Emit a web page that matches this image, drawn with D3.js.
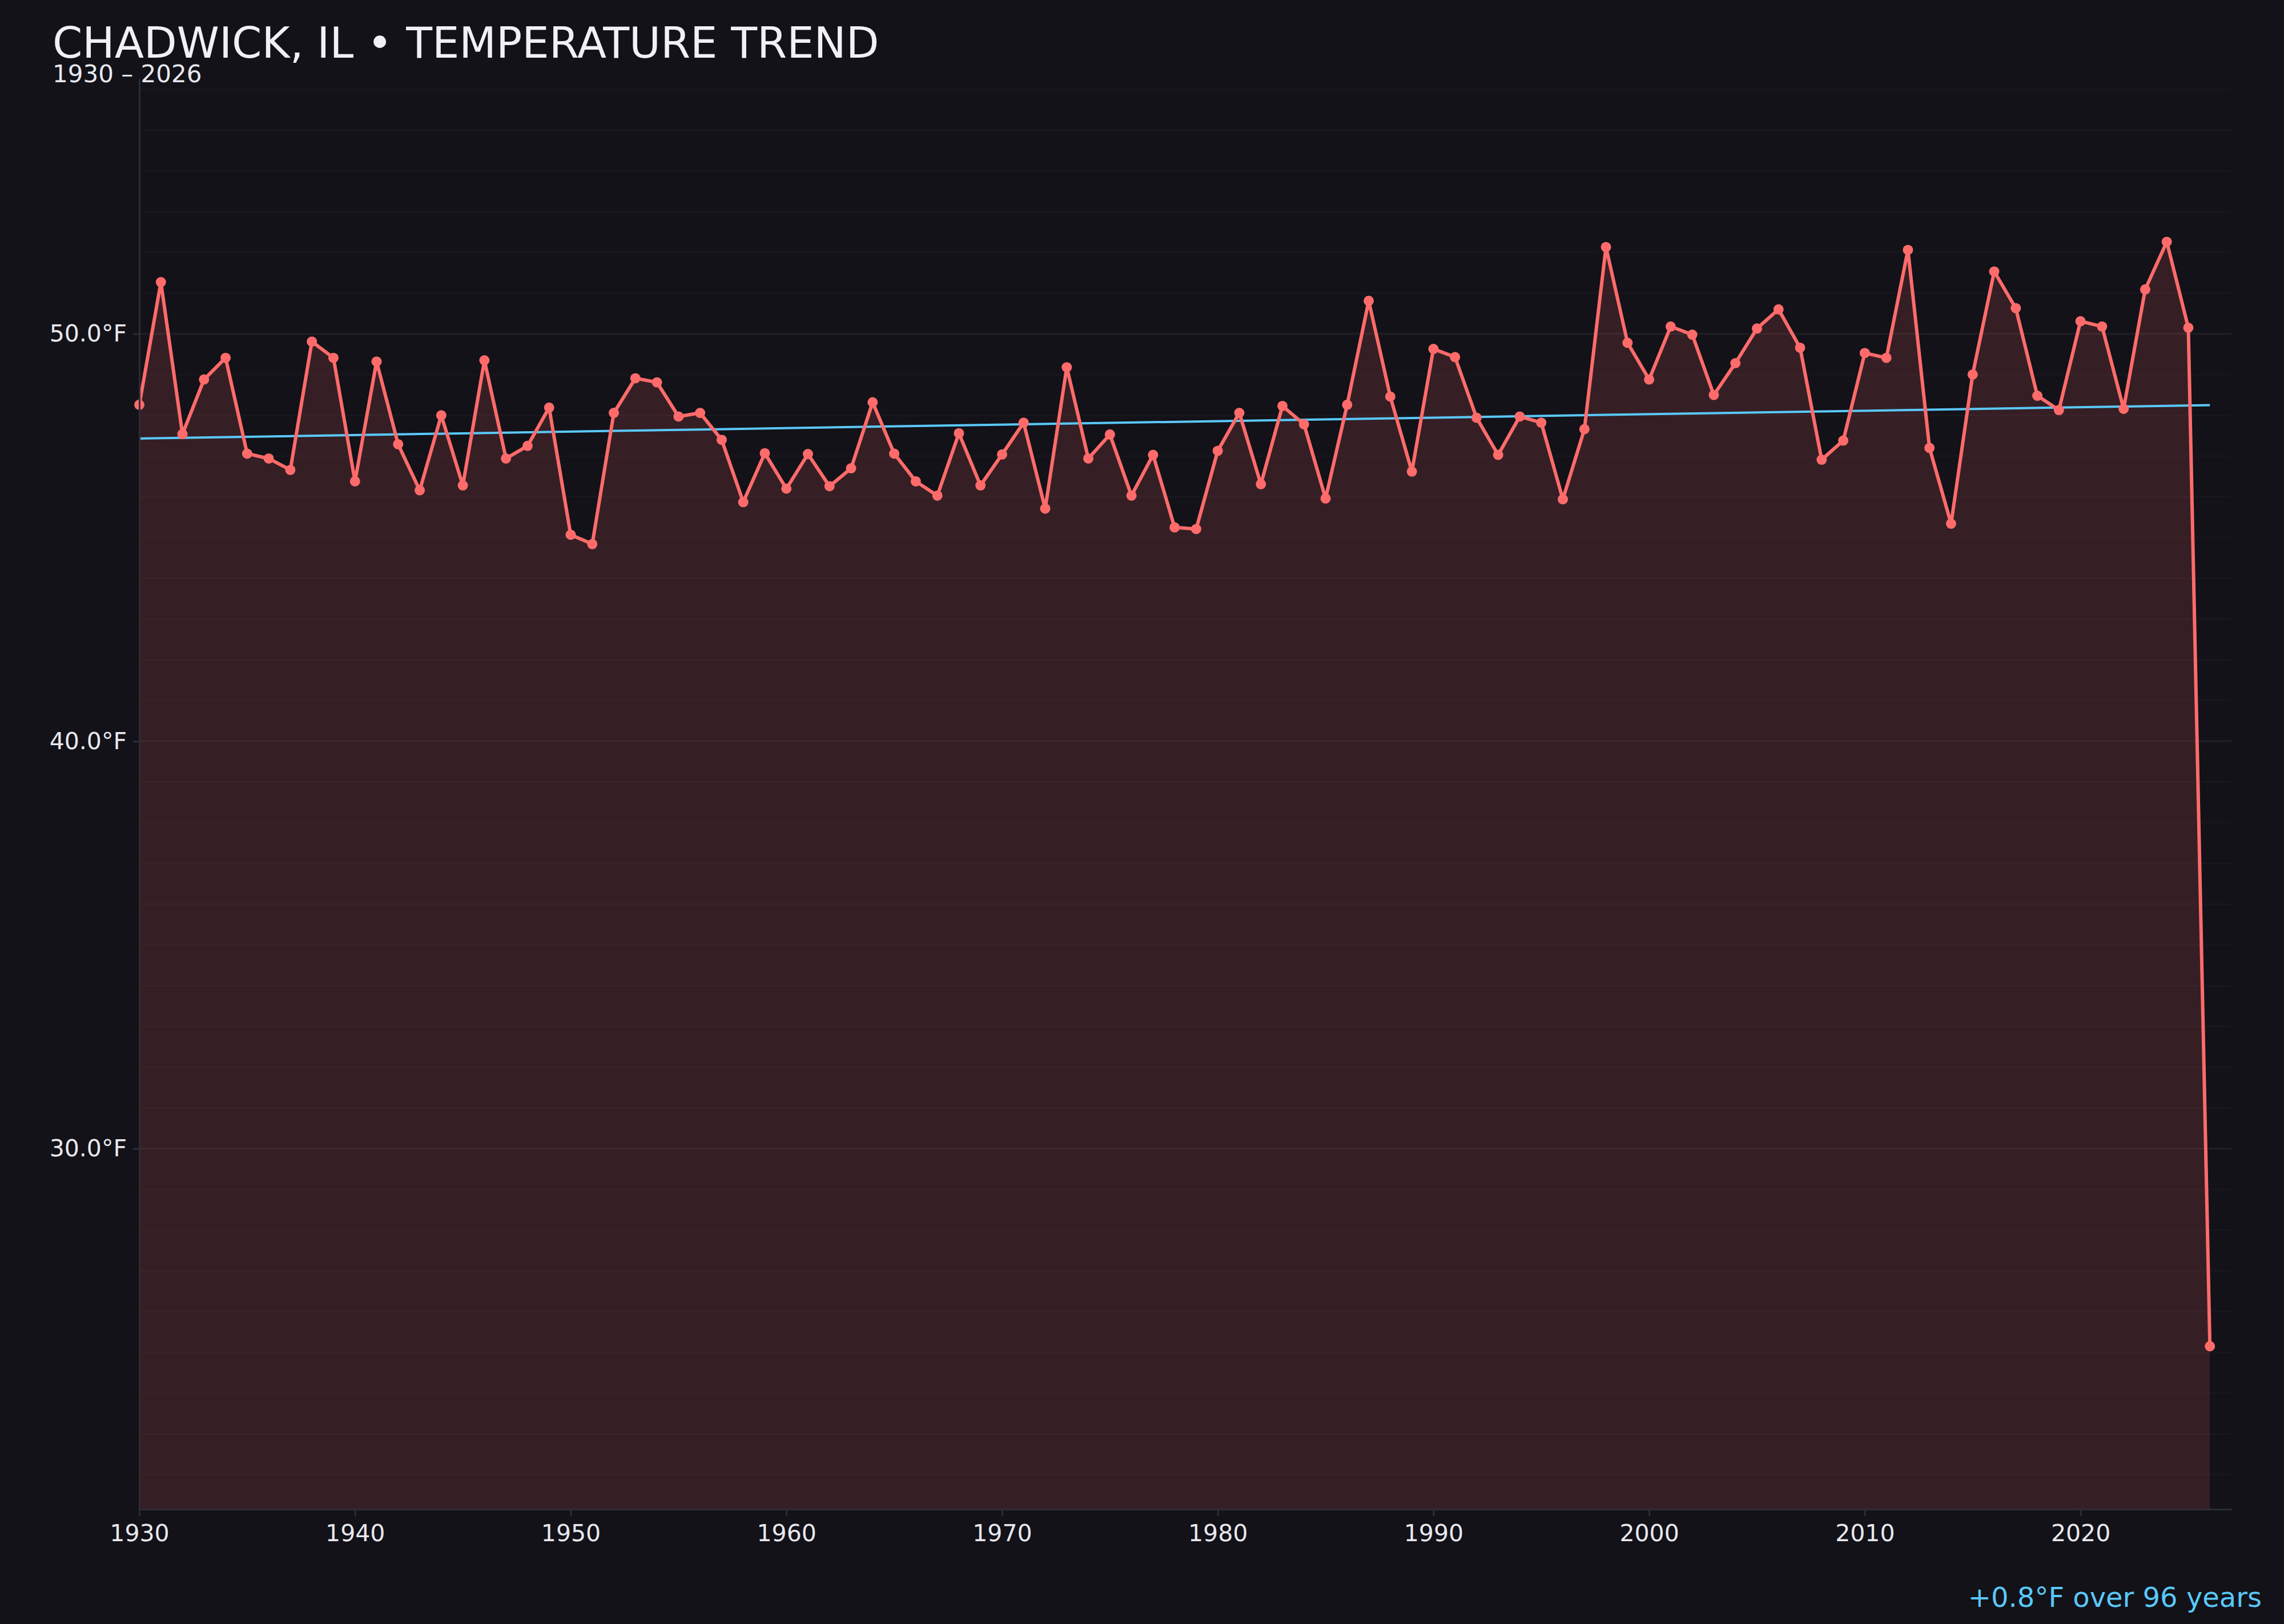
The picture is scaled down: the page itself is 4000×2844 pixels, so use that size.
<!DOCTYPE html>
<html>
<head>
<meta charset="utf-8">
<script src="https://cdn.jsdelivr.net/npm/d3@7/dist/d3.min.js"></script>
<style>
  html, body { margin: 0; padding: 0; background: #121218; }
  svg { display: block; font-family: "DejaVu Sans", sans-serif; }
</style>
</head>
<body>
<div id="chart"></div>
<script>
// Annual mean temperature, Chadwick IL
const years = d3.range(1930, 2027);
const temps = [
  48.26, 51.27, 47.54, 48.88, 49.41, 47.06, 46.94, 46.66, 49.81, 49.41,
  46.38, 49.32, 47.29, 46.16, 48.00, 46.28, 49.35, 46.94, 47.25, 48.19,
  45.07, 44.84, 48.06, 48.91, 48.81, 47.97, 48.06, 47.40, 45.87, 47.07,
  46.20, 47.05, 46.26, 46.70, 48.32, 47.06, 46.38, 46.03, 47.56, 46.28,
  47.04, 47.82, 45.71, 49.18, 46.94, 47.53, 46.03, 47.03, 45.25, 45.21,
  47.13, 48.06, 46.31, 48.23, 47.78, 45.96, 48.26, 50.81, 48.46, 46.62,
  49.63, 49.43, 47.94, 47.03, 47.97, 47.82, 45.94, 47.66, 52.13, 49.78,
  48.88, 50.18, 49.98, 48.50, 49.28, 50.13, 50.60, 49.66, 46.91, 47.38,
  49.53, 49.41, 52.06, 47.20, 45.34, 49.00, 51.53, 50.63, 48.48, 48.13,
  50.31, 50.18, 48.16, 51.09, 52.26, 50.15, 25.15
];

// Trend line end points (first and last year)
const trendYears = [1930, 2026];
const trendTemps = [47.43, 48.25];

const xTicks = d3.range(1930, 2021, 10);
const yTicks = [30, 40, 50];

const titleText = "CHADWICK, IL \u2022 TEMPERATURE TREND";
const subtitleText = "1930 \u2013 2026";
const trendLabel = "+0.8\u00b0F over 96 years";

const data = years.map((yr, i) => ({ year: yr, temp: temps[i] }));
const trend = trendYears.map((yr, i) => ({ year: yr, temp: trendTemps[i] }));

const width = 4000;
const height = 2844;
const margin = { top: 138, right: 92, bottom: 201, left: 244 };

const svg = d3.select("#chart")
  .append("svg")
  .attr("width", width)
  .attr("height", height);

svg.append("rect")
  .attr("width", width)
  .attr("height", height)
  .attr("fill", "#121218");

// Scales
const x = d3.scaleLinear()
  .domain([1930, 2027])
  .range([margin.left, width - margin.right]);

const y = d3.scaleLinear()
  .domain([d3.min(temps) - 4, d3.max(temps) + 4])
  .range([height - margin.bottom, margin.top]);

// Gridlines, one per degree
const gridVals = d3.range(Math.ceil(y.domain()[0]), Math.floor(y.domain()[1]) + 1);
svg.append("g")
  .selectAll("line")
  .data(gridVals)
  .join("line")
    .attr("x1", x.range()[0])
    .attr("x2", x.range()[1])
    .attr("y1", d => y(d))
    .attr("y2", d => y(d))
    .attr("stroke", "#ffffff")
    .attr("stroke-opacity", d => d % 10 === 0 ? 0.06 : 0.025)
    .attr("stroke-width", 3);

// Area under the line
const area = d3.area()
  .x(d => x(d.year))
  .y0(y.range()[0])
  .y1(d => y(d.temp));

svg.append("path")
  .datum(data)
  .attr("d", area)
  .attr("fill", "#ff6b6b")
  .attr("fill-opacity", 0.15);

// Trend
const line = d3.line()
  .x(d => x(d.year))
  .y(d => y(d.temp));

svg.append("path")
  .datum(trend)
  .attr("d", line)
  .attr("fill", "none")
  .attr("stroke", "#5ac8fa")
  .attr("stroke-width", 4);

// Temperature line + dots
svg.append("path")
  .datum(data)
  .attr("d", line)
  .attr("fill", "none")
  .attr("stroke", "#ff6b6b")
  .attr("stroke-width", 6)
  .attr("stroke-linejoin", "round");

svg.append("g")
  .selectAll("circle")
  .data(data)
  .join("circle")
    .attr("cx", d => x(d.year))
    .attr("cy", d => y(d.temp))
    .attr("r", 9)
    .attr("fill", "#ff6b6b");

// Axes
const axisColor = "#2c2c35";
const labelColor = "#e8e8ee";

svg.append("g")
  .attr("transform", `translate(0,${y.range()[0]})`)
  .call(d3.axisBottom(x).tickValues(xTicks).tickFormat(d3.format("d"))
    .tickSize(12).tickSizeOuter(0).tickPadding(15))
  .call(g => g.select(".domain").attr("stroke", axisColor).attr("stroke-width", 3))
  .call(g => g.selectAll(".tick line").attr("stroke", axisColor).attr("stroke-width", 3))
  .call(g => g.selectAll(".tick text").attr("fill", labelColor).attr("font-size", 41)
    .attr("font-family", "DejaVu Sans"));

svg.append("g")
  .attr("transform", `translate(${margin.left},0)`)
  .call(d3.axisLeft(y).tickValues(yTicks).tickFormat(d => d3.format(".1f")(d) + "\u00b0F")
    .tickSize(11).tickSizeOuter(0).tickPadding(11))
  .call(g => g.select(".domain").attr("stroke", axisColor).attr("stroke-width", 3))
  .call(g => g.selectAll(".tick line").attr("stroke", axisColor).attr("stroke-width", 3))
  .call(g => g.selectAll(".tick text").attr("fill", labelColor).attr("font-size", 41)
    .attr("font-family", "DejaVu Sans"));

// Titles
svg.append("text")
  .attr("x", 92)
  .attr("y", 101)
  .attr("fill", "#f0f0f5")
  .attr("font-size", 75)
  .text(titleText);

svg.append("text")
  .attr("x", 92)
  .attr("y", 144)
  .attr("fill", labelColor)
  .attr("font-size", 42)
  .text(subtitleText);

// Trend annotation
svg.append("text")
  .attr("x", 3961)
  .attr("y", 2814)
  .attr("text-anchor", "end")
  .attr("fill", "#5ac8fa")
  .attr("font-size", 48)
  .text(trendLabel);
</script>
</body>
</html>
